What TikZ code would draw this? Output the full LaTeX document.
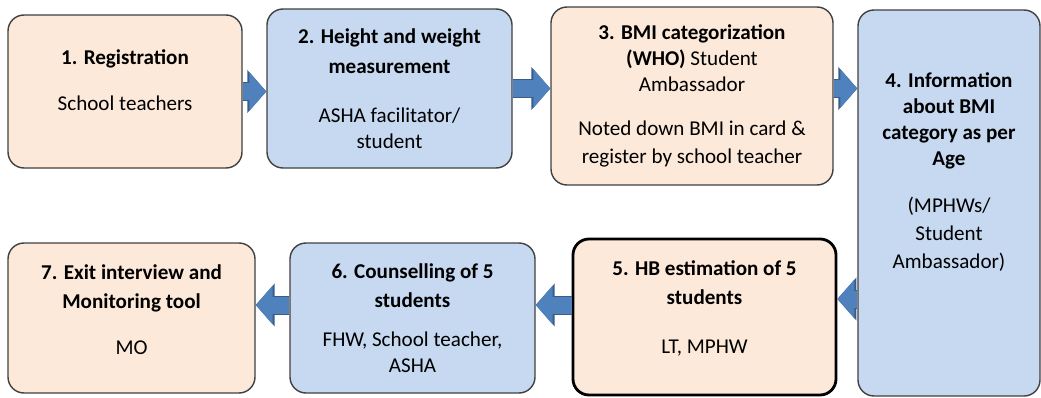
\documentclass[tikz,border=0pt]{standalone}
\usepackage{fontspec}
\setmainfont{Carlito}
\usepackage{xcolor}
\usepackage{tikz}
\usetikzlibrary{arrows.meta,positioning,calc}
\definecolor{peach}{HTML}{FDE9D9}
\definecolor{paleblue}{HTML}{C6D9F1}
\definecolor{edgegray}{HTML}{404040}
\definecolor{flowblue}{HTML}{4F81BD}
\definecolor{flowedge}{HTML}{385D8A}

\begin{document}
\begin{tikzpicture}[font=\fontsize{12}{14.8}\selectfont]
        \tikzstyle{stepbox}=[draw=edgegray,line width=0.8pt,rounded corners=0.32cm,align=center,inner sep=2pt]
        \tikzstyle{flow}=[draw=flowblue,line width=0.34cm,-{Triangle[length=0.34cm,width=0.76cm]},
          preaction={draw=flowedge,line width=0.38cm,-{Triangle[length=0.38cm,width=0.84cm]}}]
        \useasboundingbox (0,0) rectangle (20.82,-7.94);
        % top row, left to right
        \node[stepbox,fill=peach,minimum width=4.68cm,minimum height=3.06cm,text depth=0.45cm] (s1) at (2.50,-1.83)
          {\textbf{1. Registration}\\[11pt] School teachers};
        \node[stepbox,fill=paleblue,minimum width=4.90cm,minimum height=3.18cm] (s2) at (7.79,-1.77)
          {\textbf{2. Height and weight}\\[2pt] \textbf{measurement}\\[13pt] ASHA facilitator/\\ student};
        \node[stepbox,fill=peach,minimum width=5.64cm,minimum height=3.56cm] (s3) at (13.84,-1.92)
          {\textbf{3. BMI categorization}\\ \textbf{(WHO)} Student\\ Ambassador\\[10pt] Noted down BMI in card \&\\[1pt] register by school teacher};
        % tall box on the right, text sits high
        \node[stepbox,fill=paleblue,minimum width=3.64cm,minimum height=7.72cm,text depth=1.3cm] (s4) at (18.98,-4.06)
          {\textbf{4. Information}\\ \textbf{about BMI}\\ \textbf{category as per}\\ \textbf{Age}\\[12pt] (MPHWs/\\[1pt] Student\\[1pt] Ambassador)};
        % bottom row, right to left
        \node[stepbox,fill=peach,draw=black,line width=1.6pt,minimum width=5.26cm,minimum height=3.12cm,text depth=0.4cm] (s5) at (14.09,-6.34)
          {\textbf{5. HB estimation of 5}\\[2pt] \textbf{students}\\[13pt] LT, MPHW};
        \node[stepbox,fill=paleblue,minimum width=4.90cm,minimum height=3.00cm] (s6) at (8.25,-6.36)
          {\textbf{6. Counselling of 5}\\[2pt] \textbf{students}\\[7pt] FHW, School teacher,\\ ASHA};
        \node[stepbox,fill=peach,minimum width=4.94cm,minimum height=3.00cm,text depth=0.35cm] (s7) at (2.63,-6.36)
          {\textbf{7. Exit interview and}\\[2pt] \textbf{Monitoring tool}\\[11pt] MO};
        % block arrows between the steps
        \coordinate (a45) at ([yshift=0.36cm]s5.east);
        \coordinate (a56) at ([yshift=0.24cm]s5.west);
        \draw[flow] (s1.east) -- (s2.west |- s1.east);
        \draw[flow] (s2.east) -- (s3.west |- s2.east);
        \draw[flow] (s3.east |- s2.east) -- (s4.west |- s2.east);
        \draw[flow] (s4.west |- a45) -- (a45);
        \draw[flow] (a56) -- (s6.east |- a56);
        \draw[flow] (s6.west |- a56) -- (s7.east |- a56);
\end{tikzpicture}
\end{document}
